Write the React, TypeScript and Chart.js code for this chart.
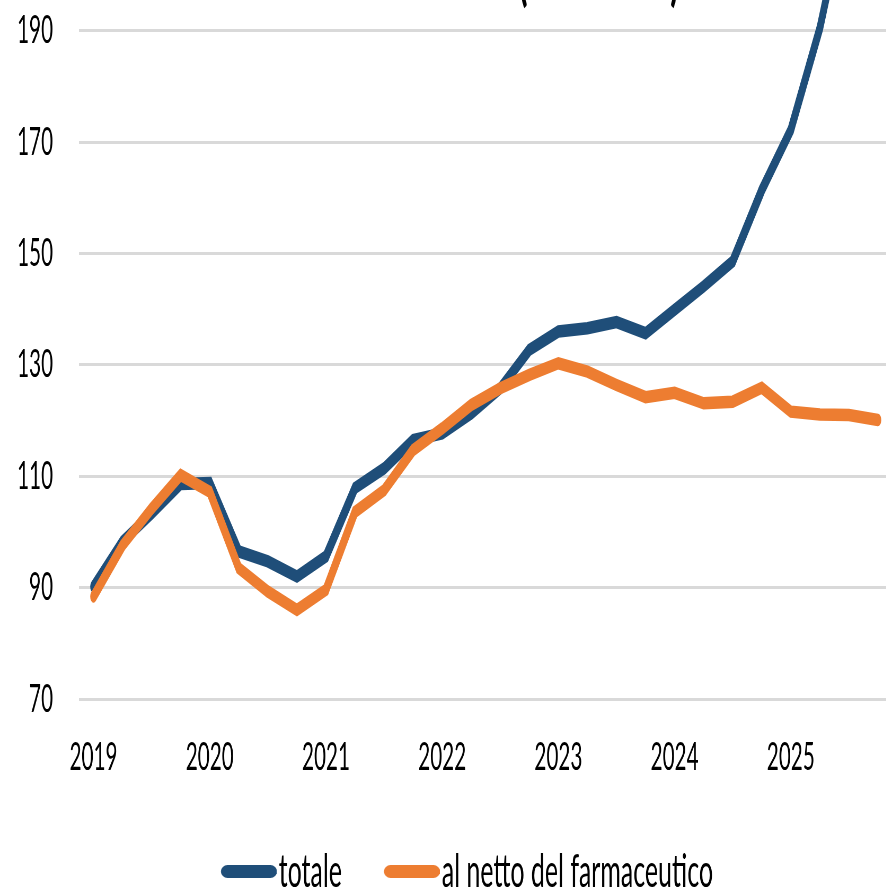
import React, { useEffect, useRef } from 'react';
import { Chart, registerables } from 'chart.js';

Chart.register(...registerables);

// ---- data ----
const quarters = [
  '2019T1', '2019T2', '2019T3', '2019T4',
  '2020T1', '2020T2', '2020T3', '2020T4',
  '2021T1', '2021T2', '2021T3', '2021T4',
  '2022T1', '2022T2', '2022T3', '2022T4',
  '2023T1', '2023T2', '2023T3', '2023T4',
  '2024T1', '2024T2', '2024T3', '2024T4',
  '2025T1', '2025T2', '2025T3', '2025T4',
];
const totale = [
  90.2, 98.3, 103.3, 108.6,
  108.8, 96.5, 94.7, 92.0,
  95.6, 107.9, 111.4, 116.5,
  117.7, 121.3, 125.8, 132.7,
  136.0, 136.6, 137.7, 135.7,
  139.9, 144.1, 148.6, 161.4,
  172.2, 190.5, 215.0, 222.0,
];
const nettoFarmaceutico = [
  88.4, 97.6, 104.2, 110.2,
  107.2, 93.5, 89.3, 86.0,
  89.6, 103.6, 107.5, 114.7,
  118.6, 122.8, 125.8, 128.2,
  130.3, 128.8, 126.4, 124.2,
  125.0, 123.1, 123.4, 125.9,
  121.6, 121.1, 121.0, 120.1,
];
const seriesNames = ['totale', 'al netto del farmaceutico'];
const yMin = 70;
const yMax = 210;
const yStep = 20;
const titleText = '(2019=100)';

// ---- styling / layout (screen px) ----
const BLUE = '#1F4E79';
const ORANGE = '#ED7D31';
const GRID = '#D9D9D9';
const FONT = "Lato, 'Liberation Sans', sans-serif";
const S = 0.53; // horizontal squeeze of the whole figure
const K = 1 / S;

const CHART_L = 79;
const CHART_R = 892.5;
const Y_LABEL_R = 53;
const Y_AT_MIN = 699; // screen y of 70
const PX_PER_UNIT = 111.33 / 20;
const Y_AT_MAX = Y_AT_MIN - (yMax - yMin) * PX_PER_UNIT;
const X_LABEL_CY = 757.5;
const LEG_CY = 871.5;
const LEG_ML1 = 222;
const LEG_ML2 = 385;
const LEG_MW = 56;
const LEG_MH = 13;
const LEG_GAP = 2;

const FY = 39;
const FX = 39;
const FL = 47;
const LINE_W = 12.5;

const padY = (CHART_L - Y_LABEL_R) * K;
const padX = X_LABEL_CY - Y_AT_MIN - (FX * 1.2) / 2;
const CANVAS_BOTTOM = LEG_CY + 10 + FL / 2;
const CANVAS_TOP = Y_AT_MAX - ((FY * 1.2) / 2 + padY);
const H = Math.round(CANVAS_BOTTOM - CANVAS_TOP);
const CR = CHART_R * K;
const W = Math.round(CR + 40 * K);

function makeMarker(color: string, e: number) {
  const wm = LEG_MW * K;
  const c = document.createElement('canvas');
  c.width = Math.round(wm + 2 * Math.abs(e));
  c.height = LEG_MH;
  const off = e + Math.abs(e);
  const ctx = c.getContext('2d') as CanvasRenderingContext2D;
  ctx.fillStyle = color;
  ctx.beginPath();
  (ctx as any).roundRect(off, 0, wm, LEG_MH, [{ x: (LEG_MH / 2) * K, y: LEG_MH / 2 }]);
  ctx.fill();
  return c;
}

export default function App() {
  const ref = useRef<HTMLCanvasElement>(null);

  useEffect(() => {
    if (!ref.current) return;
    // legend geometry from measured text widths
    const m = document.createElement('canvas').getContext('2d') as CanvasRenderingContext2D;
    m.font = `${FL}px ${FONT}`;
    const T1 = m.measureText(seriesNames[0]).width;
    const T2 = m.measureText(seriesNames[1]).width;
    const A = LEG_ML1 * K;
    const D = (LEG_ML2 - LEG_ML1) * K;
    const Wm = LEG_MW * K;
    const G = LEG_GAP * K;
    let P = CR - (T1 + T2) - 2 * (A + Wm + G);
    if (P < 1) P = 1;
    const b = D - FL / 2 - T1 - P;
    const e = b / 2 + FL / 2 - Wm / 2 - G;
    const markers = [makeMarker(BLUE, e), makeMarker(ORANGE, e)];
    const legendTop = LEG_CY - FL / 2 - P;
    const xAxisH = legendTop - Y_AT_MIN;

    const chart = new Chart(ref.current, {
      type: 'line',
      data: {
        labels: quarters,
        datasets: [
          {
            label: seriesNames[0],
            data: totale,
            borderColor: BLUE,
            backgroundColor: BLUE,
            borderWidth: LINE_W,
            pointRadius: 0,
            borderCapStyle: 'round',
            tension: 0,
            order: 1,
          },
          {
            label: seriesNames[1],
            data: nettoFarmaceutico,
            borderColor: ORANGE,
            backgroundColor: ORANGE,
            borderWidth: LINE_W,
            pointRadius: 0,
            borderCapStyle: 'round',
            tension: 0,
            order: 0,
          },
        ],
      },
      options: {
        responsive: false,
        animation: false,
        events: [],
        layout: { padding: { top: 0, right: W - CR, bottom: 0, left: 0 } },
        scales: {
          x: {
            type: 'category',
            offset: true,
            grid: { display: false, drawTicks: false },
            border: { display: false },
            ticks: {
              autoSkip: false,
              maxRotation: 0,
              minRotation: 0,
              padding: padX,
              color: '#000',
              font: { family: FONT, size: FX },
              callback: (_v: any, i: number) =>
                quarters[i].endsWith('T1') ? quarters[i].slice(0, 4) : '',
            },
            afterFit: (scale: any) => {
              scale.height = xAxisH;
            },
          },
          y: {
            min: yMin,
            max: yMax,
            grid: { color: GRID, lineWidth: 3, drawTicks: false },
            border: { display: false },
            ticks: {
              stepSize: yStep,
              padding: padY,
              color: '#000',
              font: { family: FONT, size: FY },
            },
            afterFit: (scale: any) => {
              scale.width = CHART_L * K;
            },
          },
        },
        plugins: {
          title: { display: false },
          tooltip: { enabled: false },
          legend: {
            display: true,
            position: 'bottom',
            align: 'center',
            labels: {
              usePointStyle: true,
              pointStyleWidth: b,
              padding: P,
              color: '#000',
              font: { family: FONT, size: FL },
              sort: (a: any, c: any) => a.datasetIndex - c.datasetIndex,
              generateLabels: (c: any) => {
                const items = Chart.defaults.plugins.legend.labels.generateLabels(c);
                return items.map((it: any) => ({
                  ...it,
                  pointStyle: markers[it.datasetIndex],
                  lineWidth: 0,
                }));
              },
            },
          },
        },
      } as any,
    });
    return () => chart.destroy();
  }, []);

  return (
    <div
      style={{
        position: 'absolute',
        left: 0,
        top: 0,
        width: 886,
        height: 889,
        overflow: 'hidden',
        background: '#fff',
      }}
    >
      <div
        style={{
          position: 'absolute',
          left: 0,
          top: CANVAS_TOP,
          width: W,
          height: H,
          transform: `scaleX(${S})`,
          transformOrigin: '0 0',
        }}
      >
        <canvas ref={ref} width={W} height={H} style={{ display: 'block' }} />
      </div>
      <div
        style={{
          position: 'absolute',
          left: 518.5,
          top: -52,
          fontFamily: FONT,
          fontWeight: 900,
          fontSize: 58,
          lineHeight: '58px',
          whiteSpace: 'nowrap',
          color: '#000',
          transform: `scaleX(${S})`,
          transformOrigin: '0 0',
        }}
      >
        {titleText}
      </div>
    </div>
  );
}
